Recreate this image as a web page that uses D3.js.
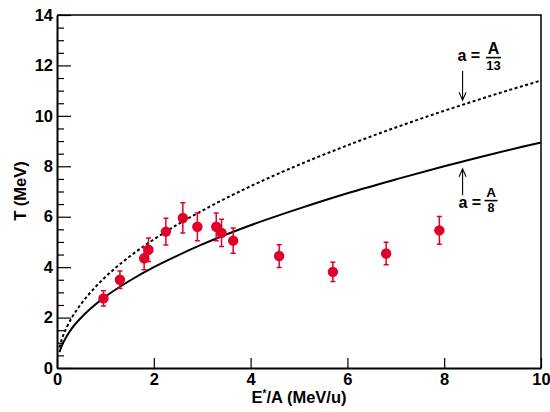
<!DOCTYPE html>
<html>
<head>
<meta charset="utf-8">
<script src="https://cdn.jsdelivr.net/npm/d3@7"></script>
<style>
  html, body { margin: 0; padding: 0; background: #fff; }
  svg { display: block; font-family: "Liberation Sans", Arial, Helvetica, sans-serif; font-weight: bold; }
</style>
</head>
<body>
<svg id="chart" width="550" height="412"></svg>
<script>
// Measured temperatures vs excitation energy per nucleon
const energy = [0.96, 1.30, 1.80, 1.89, 2.25, 2.60, 2.90, 3.29, 3.40, 3.64, 4.59, 5.70, 6.80, 7.90];
const temperature = [2.76, 3.50, 4.35, 4.69, 5.41, 5.95, 5.60, 5.60, 5.36, 5.05, 4.44, 3.81, 4.54, 5.46];
const tempError = [0.30, 0.35, 0.45, 0.47, 0.53, 0.60, 0.55, 0.55, 0.54, 0.50, 0.45, 0.38, 0.45, 0.55];

// Fermi-gas curves for two level-density parameters
const curveE = [0.05, 0.1, 0.2, 0.3, 0.5, 0.75, 1, 1.5, 2, 2.5, 3, 4, 5, 6, 7, 8, 9, 10];
const curveA8 = [0.63, 0.89, 1.26, 1.55, 2.00, 2.45, 2.83, 3.46, 4.00, 4.47, 4.90, 5.66, 6.32, 6.93, 7.48, 8.00, 8.49, 8.94];
const curveA13 = [0.81, 1.14, 1.61, 1.97, 2.55, 3.12, 3.61, 4.42, 5.10, 5.70, 6.24, 7.21, 8.06, 8.83, 9.54, 10.20, 10.82, 11.40];

const xTicks = [0, 2, 4, 6, 8, 10];
const yTicks = [0, 2, 4, 6, 8, 10, 12, 14];
const yMinorTicks = d3.range(0, 14.01, 0.5).filter(v => v % 2 !== 0);

const svg = d3.select("#chart");
const m = { left: 57, right: 9, top: 15, bottom: 44 };
const W = 550, H = 412;

const x = d3.scaleLinear().domain([0, 10]).range([m.left, W - m.right]);
const y = d3.scaleLinear().domain([0, 14]).range([H - m.bottom, m.top]);

const red = "#e0002a";
const fontFam = "Liberation Sans, Arial, sans-serif";

// frame (top and right)
svg.append("path")
  .attr("d", `M${x(0)},${y(14)}H${x(10)}V${y(0)}`)
  .attr("fill", "none").attr("stroke", "#000").attr("stroke-width", 1.5);

// y axis: minor ticks, then major ticks with labels
svg.append("g")
  .attr("transform", `translate(${x(0)},0)`)
  .call(d3.axisLeft(y).tickValues(yMinorTicks).tickSize(-7).tickFormat(""))
  .call(g => g.select(".domain").remove())
  .call(g => g.selectAll("line").attr("stroke-width", 1.2));

svg.append("g")
  .attr("transform", `translate(${x(0)},0)`)
  .call(d3.axisLeft(y).tickValues(yTicks).tickSize(-14).tickPadding(4).tickSizeOuter(0).tickFormat(d3.format("d")))
  .call(g => g.select(".domain").attr("stroke-width", 2))
  .call(g => g.selectAll("line").attr("stroke-width", 1.2))
  .call(g => g.selectAll("text").attr("font-size", 16.5).attr("font-weight", "bold").attr("fill", "#000")
    .attr("font-family", fontFam));

// x axis
svg.append("g")
  .attr("transform", `translate(0,${y(0)})`)
  .call(d3.axisBottom(x).tickValues(xTicks).tickSize(-10).tickPadding(5).tickSizeOuter(0).tickFormat(d3.format("d")))
  .call(g => g.select(".domain").attr("stroke-width", 2))
  .call(g => g.selectAll("line").attr("stroke-width", 1.2))
  .call(g => g.selectAll("text").attr("font-size", 16.5).attr("font-weight", "bold").attr("fill", "#000")
    .attr("font-family", fontFam));

// axis titles
const xt = svg.append("text")
  .attr("x", (x(0) + x(10)) / 2).attr("y", 403)
  .attr("text-anchor", "middle").attr("font-size", 16.5);
xt.append("tspan").text("E");
xt.append("tspan").attr("font-size", 10).attr("dy", -6).text("*");
xt.append("tspan").attr("dy", 6).text("/A (MeV/u)");

svg.append("text")
  .attr("transform", `translate(26,191) rotate(-90)`)
  .attr("text-anchor", "middle").attr("font-size", 16.5)
  .text("T (MeV)");

// theory curves
const line = d3.line().x(d => x(d[0])).y(d => y(d[1])).curve(d3.curveMonotoneX);
svg.append("path")
  .datum(curveE.map((e, i) => [e, curveA13[i]]))
  .attr("d", line).attr("fill", "none").attr("stroke", "#000")
  .attr("stroke-width", 2).attr("stroke-dasharray", "3,2.5");
svg.append("path")
  .datum(curveE.map((e, i) => [e, curveA8[i]]))
  .attr("d", line).attr("fill", "none").attr("stroke", "#000")
  .attr("stroke-width", 2);

// data points with error bars
const pts = energy.map((e, i) => ({ e, t: temperature[i], err: tempError[i] }));
const gp = svg.append("g");
gp.selectAll("path.err").data(pts).join("path")
  .attr("class", "err")
  .attr("d", d => {
    const cx = x(d.e), y1 = y(d.t + d.err), y2 = y(d.t - d.err);
    return `M${cx},${y1}V${y2}M${cx - 2.5},${y1}H${cx + 2.5}M${cx - 2.5},${y2}H${cx + 2.5}`;
  })
  .attr("fill", "none").attr("stroke", red).attr("stroke-width", 1.5);
gp.selectAll("circle").data(pts).join("circle")
  .attr("cx", d => x(d.e)).attr("cy", d => y(d.t)).attr("r", 5.2)
  .attr("fill", red);

// annotations: arrows and "a = A/n" fractions
function arrow(xv, yFrom, yTo) {
  const cx = x(xv), a = y(yFrom), b = y(yTo);
  const dir = b > a ? -1 : 1;
  svg.append("path")
    .attr("d", `M${cx},${a}V${b}M${cx - 3.5},${b + dir * 8}L${cx},${b}L${cx + 3.5},${b + dir * 8}`)
    .attr("fill", "none").attr("stroke", "#000").attr("stroke-width", 1.1);
}
function fracLabel(tx, ty, num, den, numSize, denSize, barX0, barX1, barY, numY, denY) {
  svg.append("text").attr("x", tx).attr("y", ty).attr("font-size", 16).text("a =");
  const cx = (barX0 + barX1) / 2;
  svg.append("text").attr("x", cx).attr("y", numY).attr("text-anchor", "middle").attr("font-size", numSize).text(num);
  svg.append("line").attr("x1", barX0).attr("x2", barX1).attr("y1", barY).attr("y2", barY)
    .attr("stroke", "#000").attr("stroke-width", 1.6);
  svg.append("text").attr("x", cx).attr("y", denY).attr("text-anchor", "middle").attr("font-size", denSize).text(den);
}

arrow(8.38, 11.78, 10.62);
fracLabel(457.5, 61, "A", "13", 16, 13, 486, 501, 57.6, 54.4, 70);

arrow(8.38, 6.85, 7.9);
fracLabel(458.5, 207.5, "A", "8", 13.5, 12.5, 484.5, 497.5, 200.6, 197.2, 211.8);
</script>
</body>
</html>
